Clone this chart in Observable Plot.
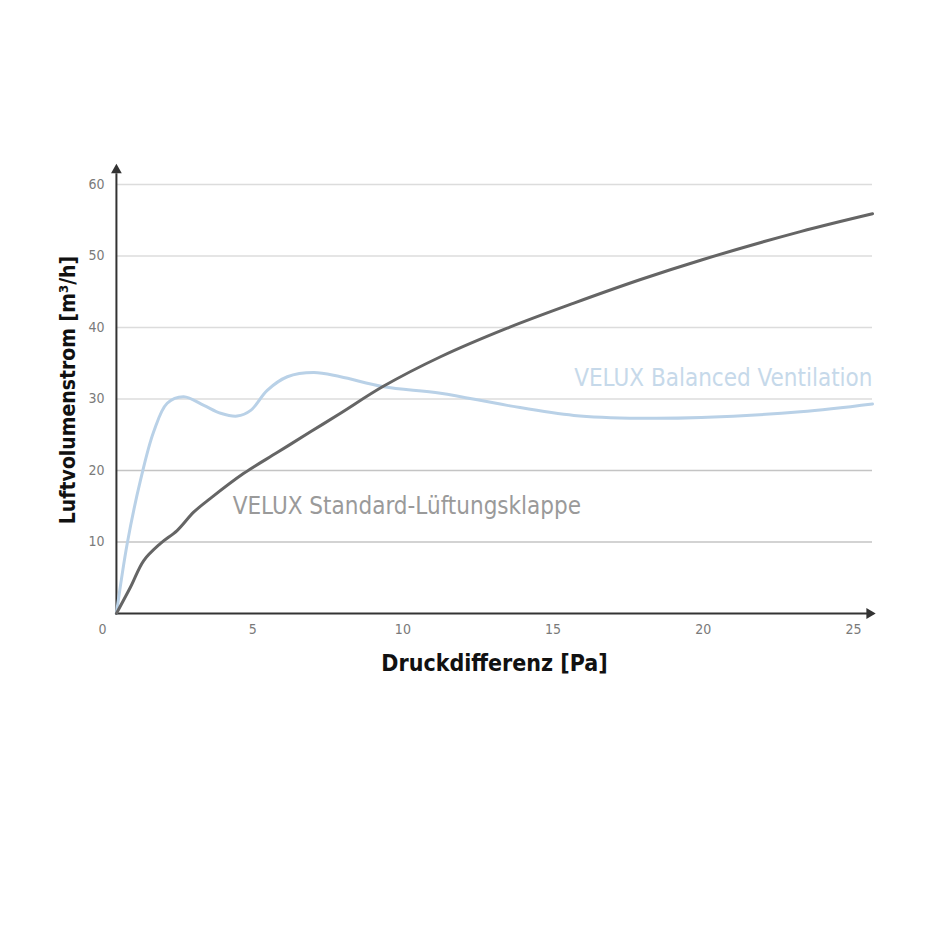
<!DOCTYPE html>
<html>
<head>
<meta charset="utf-8">
<script src="https://cdn.jsdelivr.net/npm/d3@7"></script>
<script src="https://cdn.jsdelivr.net/npm/@observablehq/plot@0.6"></script>
<style>
  html, body { margin: 0; padding: 0; background: #fff; }
  #chart svg { display: block; }
</style>
</head>
<body>
<div id="chart"></div>
<script>
// Data
const stdX = [0.53, 1.0, 1.44, 2.0, 2.55, 3.11, 3.66, 4.77, 5.88, 6.99, 7.99, 9.43, 11.32, 13.54, 15.76, 17.98, 19.98, 23.3, 25.7];
const stdY = [0, 3.7, 7.4, 9.8, 11.6, 14.2, 16.1, 19.6, 22.5, 25.4, 28.0, 31.8, 35.9, 39.9, 43.4, 46.7, 49.4, 53.4, 55.9];
const balX = [0.53, 0.89, 1.33, 1.77, 2.22, 2.77, 3.44, 4.0, 4.55, 5.0, 5.55, 6.22, 7.1, 7.99, 9.43, 11.32, 13.54, 15.76, 17.98, 20, 23.3, 25.7];
const balY = [0, 9.8, 18.6, 25.4, 29.4, 30.3, 29.1, 28.0, 27.6, 28.4, 31.2, 33.1, 33.7, 33.1, 31.7, 30.8, 29.1, 27.7, 27.3, 27.4, 28.2, 29.3];
const xTicks = [0, 5, 10, 15, 20, 25];
const yTicks = [10, 20, 30, 40, 50, 60];
const seriesNames = ["VELUX Standard-Lüftungsklappe", "VELUX Balanced Ventilation"];
const xLabel = "Druckdifferenz [Pa]";
const yLabel = "Luftvolumenstrom [m³/h]";

const std = stdX.map((x, i) => ({x, y: stdY[i]}));
const bal = balX.map((x, i) => ({x, y: balY[i]}));
const x0 = stdX[0];
const xEnd = 25.7;
const font = "'DejaVu Sans Condensed', 'DejaVu Sans', sans-serif";

const chart = Plot.plot({
  width: 940,
  height: 700,
  marginLeft: 100,
  marginRight: 68,
  marginTop: 166,
  marginBottom: 87,
  style: {fontFamily: font, background: "#fff"},
  x: {domain: [0, xEnd]},
  y: {domain: [0, 62.5]},
  marks: [
    Plot.ruleY(yTicks, {x1: x0, x2: xEnd, stroke: d => d <= 20 ? "#c4c4c4" : "#dcdcdc", strokeWidth: 1.5}),
    Plot.axisX({ticks: xTicks, tickSize: 0, tickPadding: 11, dx: 2, label: null, fill: "#7a7a7a", fontSize: 14}),
    Plot.axisY({ticks: yTicks, tickSize: 0, tickPadding: 0, dx: 4, label: null, fill: "#7a7a7a", fontSize: 14}),
    Plot.ruleX([x0], {y1: 0, y2: 61.5, stroke: "#333", strokeWidth: 2}),
    Plot.ruleY([0], {x1: x0, x2: xEnd - 0.15, stroke: "#333", strokeWidth: 2}),
    Plot.dot([{x: x0, y: 62.0}], {x: "x", y: "y", symbol: "triangle", r: 4, fill: "#333", stroke: null}),
    Plot.dot([{x: xEnd - 0.1, y: 0}], {x: "x", y: "y", symbol: "triangle", r: 4, fill: "#333", stroke: null, rotate: 90}),
    Plot.line(bal, {x: "x", y: "y", curve: "catmull-rom", stroke: "#b9d1e7", strokeWidth: 3}),
    Plot.line(std, {x: "x", y: "y", curve: "catmull-rom", stroke: "#656565", strokeWidth: 3}),
    Plot.text([seriesNames[1]], {x: xEnd, y: 32.9, text: d => d, textAnchor: "end", fill: "#c6d9ea", fontSize: 24}),
    Plot.text([seriesNames[0]], {x: 4.4, y: 15.0, text: d => d, textAnchor: "start", fill: "#9a9a9a", fontSize: 24}),
    Plot.text([xLabel], {frameAnchor: "bottom", lineAnchor: "middle", textAnchor: "middle", dx: 8, dy: 50, text: d => d, fontSize: 23, fontWeight: "bold", fill: "#111"}),
    Plot.text([yLabel], {frameAnchor: "left", lineAnchor: "middle", textAnchor: "middle", dx: -32, rotate: -90, text: d => d, fontSize: 21, fontWeight: "bold", fill: "#111"})
  ]
});
document.getElementById("chart").append(chart);
</script>
</body>
</html>
